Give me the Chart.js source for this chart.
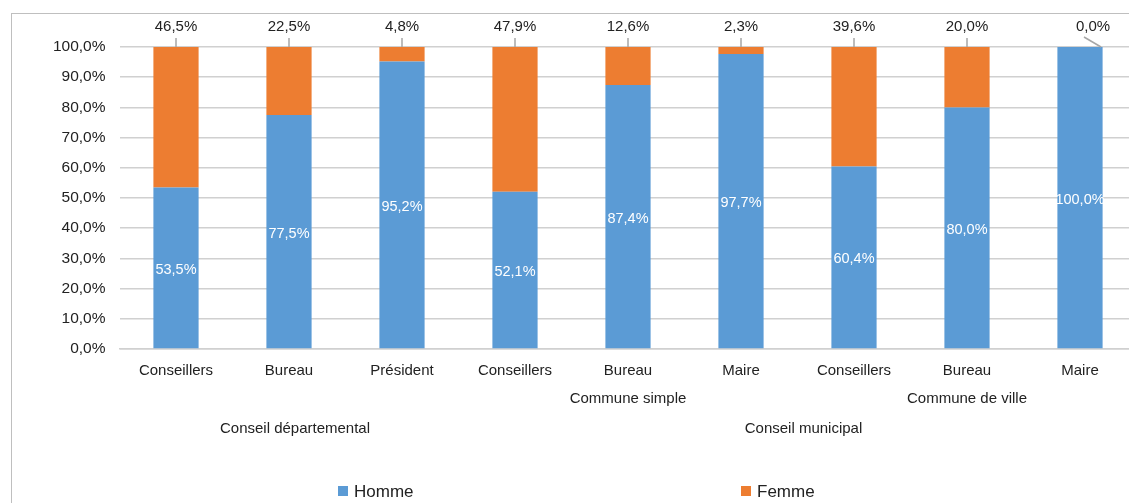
<!DOCTYPE html>
<html>
<head>
<meta charset="utf-8">
<script src="https://cdn.jsdelivr.net/npm/chart.js@4"></script>
<style>
  html, body { margin: 0; padding: 0; background: #fff; overflow: hidden; }
  #wrap { width: 1140px; height: 503px; }
</style>
</head>
<body>
<div id="wrap"><canvas id="chartParite"></canvas></div>
<script>
const categorias = ['Conseillers', 'Bureau', 'Président', 'Conseillers', 'Bureau', 'Maire', 'Conseillers', 'Bureau', 'Maire'];
const valoresHomme = [53.5, 77.5, 95.2, 52.1, 87.4, 97.7, 60.4, 80.0, 100.0];
const valoresFemme = [46.5, 22.5, 4.8, 47.9, 12.6, 2.3, 39.6, 20.0, 0.0];
const grupos = [
    { texto: 'Commune simple', desde: 3, hasta: 5, nivel: 1 },
    { texto: 'Commune de ville', desde: 6, hasta: 8, nivel: 1 },
    { texto: 'Conseil départemental', desde: 0, hasta: 2, nivel: 2 },
    { texto: 'Conseil municipal', desde: 3, hasta: 8, nivel: 2 }
];
const series = ['Homme', 'Femme'];
const colores = ['#5B9BD5', '#ED7D31'];

const fuente = "'Liberation Sans', Arial, sans-serif";

function formato(v) {
    return v.toFixed(1).replace('.', ',') + '%';
}

// etiquetas, grupos, marco y leyenda
const extras = {
    id: 'extras',
    afterDatasetsDraw(chart) {
        const ctx = chart.ctx;
        const x = chart.scales.x;
        const y = chart.scales.y;
        const area = chart.chartArea;
        ctx.save();

        // etiquetas Homme dentro de la barra
        const metaH = chart.getDatasetMeta(0);
        ctx.font = '14.5px ' + fuente;
        ctx.fillStyle = '#ffffff';
        ctx.textAlign = 'center';
        ctx.textBaseline = 'middle';
        metaH.data.forEach((bar, i) => {
            const yc = (bar.y + bar.base) / 2;
            ctx.fillText(formato(valoresHomme[i]), bar.x, yc + 2);
        });

        // etiquetas Femme arriba con linea guia
        const metaF = chart.getDatasetMeta(1);
        ctx.font = '15px ' + fuente;
        ctx.fillStyle = '#222222';
        ctx.strokeStyle = '#a6a6a6';
        ctx.lineWidth = 1.5;
        metaF.data.forEach((bar, i) => {
            const top = y.getPixelForValue(100);
            if (valoresFemme[i] === 0) {
                ctx.beginPath();
                ctx.moveTo(bar.x + 4, top - 10);
                ctx.lineTo(bar.x + 21, top);
                ctx.stroke();
                ctx.fillText(formato(valoresFemme[i]), bar.x + 13, top - 20);
            } else {
                ctx.beginPath();
                ctx.moveTo(bar.x, top - 9);
                ctx.lineTo(bar.x, top);
                ctx.stroke();
                ctx.fillText(formato(valoresFemme[i]), bar.x, top - 20);
            }
        });

        // grupos de categorias
        ctx.fillStyle = '#222222';
        ctx.font = '15px ' + fuente;
        grupos.forEach(g => {
            const xc = (x.getPixelForValue(g.desde) + x.getPixelForValue(g.hasta)) / 2;
            const yy = g.nivel === 1 ? area.bottom + 50 : area.bottom + 80;
            ctx.fillText(g.texto, xc + (g.nivel === 2 ? 6 : 0), yy);
        });

        // leyenda
        ctx.font = '17px ' + fuente;
        ctx.textAlign = 'left';
        const posLeyenda = [338, 741];
        series.forEach((s, i) => {
            ctx.fillStyle = colores[i];
            ctx.fillRect(posLeyenda[i], 486, 10, 10);
            ctx.fillStyle = '#222222';
            ctx.fillText(s, posLeyenda[i] + 16, 492);
        });

        // marco
        ctx.strokeStyle = '#bfbfbf';
        ctx.lineWidth = 1;
        ctx.strokeRect(11.5, 13.5, 1200, 600);
        ctx.restore();
    }
};

new Chart(document.getElementById('chartParite').getContext('2d'), {
    type: 'bar',
    data: {
        labels: categorias,
        datasets: [{
            label: series[0],
            data: valoresHomme,
            backgroundColor: colores[0],
            borderWidth: 0,
            barPercentage: 0.4,
            categoryPercentage: 1.0
        }, {
            label: series[1],
            data: valoresFemme,
            backgroundColor: colores[1],
            borderWidth: 0,
            barPercentage: 0.4,
            categoryPercentage: 1.0
        }]
    },
    options: {
        responsive: true,
        maintainAspectRatio: false,
        animation: false,
        layout: {
            padding: { top: 47, right: 3.5, bottom: 0, left: 0 }
        },
        scales: {
            x: {
                stacked: true,
                grid: { display: false, drawTicks: false },
                border: { color: '#d0d0d0', width: 1.5 },
                ticks: {
                    color: '#222222',
                    font: { family: fuente, size: 15 },
                    padding: 13,
                    maxRotation: 0,
                    autoSkip: false
                },
                afterFit: function (scale) {
                    scale.height = 154;
                }
            },
            y: {
                stacked: true,
                min: 0,
                max: 100,
                grid: { color: '#d0d0d0', lineWidth: 1.5, drawTicks: false },
                border: { display: false },
                ticks: {
                    stepSize: 10,
                    color: '#222222',
                    font: { family: fuente, size: 15.5 },
                    padding: 14,
                    callback: function (value) {
                        return formato(value);
                    }
                },
                afterFit: function (scale) {
                    scale.width = 119.5;
                }
            }
        },
        plugins: {
            legend: { display: false },
            tooltip: { enabled: false }
        }
    },
    plugins: [extras]
});
</script>
</body>
</html>
